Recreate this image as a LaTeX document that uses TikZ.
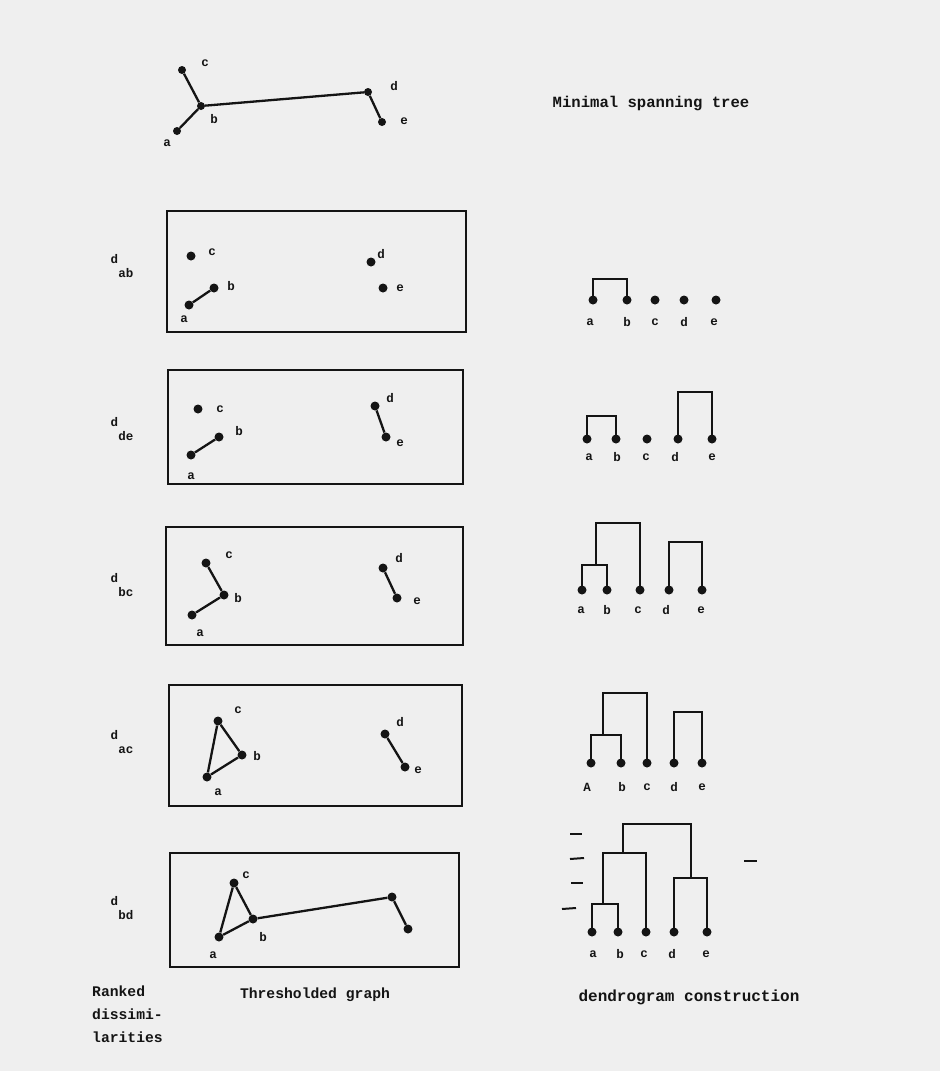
\documentclass[tikz,border=0pt]{standalone}
\usepackage{fontspec}
\setmonofont{Liberation Mono}
\definecolor{bg}{HTML}{EFEFEF}
\definecolor{ink}{HTML}{141414}
\tikzset{
  dot/.style={circle,fill=ink,inner sep=0pt,minimum size=9pt},
  sdot/.style={circle,fill=ink,inner sep=0pt,minimum size=8pt},
  lbl/.style={font=\ttfamily\bfseries\fontsize{12.5}{13}\selectfont,text=ink,inner sep=0pt},
  captxt/.style={font=\ttfamily\bfseries\fontsize{14.7}{23}\selectfont,text=ink,inner sep=0pt,align=left},
  edge/.style={draw=ink,line width=2.3pt},
  panel/.style={draw=ink,line width=2.5pt},
  tree/.style={draw=ink,line width=2.8pt},
  tickmark/.style={draw=ink,line width=2pt}
}
\newcommand{\dsub}[2]{#1\raisebox{-1.15em}{#2}}
\begin{document}
\begin{tikzpicture}[x=1pt,y=-1pt]
\fill[bg] (0,0) rectangle (940,1071);
\useasboundingbox (0,0) rectangle (940,1071);

% ---------- minimal spanning tree ----------
\node[sdot] (ta) at (177,131) {};
\node[sdot] (tb) at (201,106) {};
\node[sdot] (tc) at (182,70) {};
\node[sdot] (td) at (368,92) {};
\node[sdot] (te) at (382,122) {};
\draw[edge] (ta) -- (tb) -- (tc);
\draw[edge] (tb) -- (td) -- (te);
\node[lbl] (tlc) at (205,63) {c};
\node[lbl] (tlb) at (214,119) {b};
\node[lbl] (tla) at (167,143) {a};
\node[lbl] (tld) at (394,86) {d};
\node[lbl] (tle) at (404,121) {e};
\node[captxt,font=\ttfamily\bfseries\fontsize{15.6}{16}\selectfont] (mst) at (651,103) {Minimal spanning tree};

% ---------- panel 1 : d_ab ----------
\draw[panel] (167,211) rectangle (466,332);
\node[dot] (p1a) at (189,305) {};
\node[dot] (p1b) at (214,288) {};
\node[dot] (p1c) at (191,256) {};
\node[dot] (p1d) at (371,262) {};
\node[dot] (p1e) at (383,288) {};
\draw[edge] (p1a) -- (p1b);
\node[lbl] (l1c) at (212,252) {c};
\node[lbl] (l1b) at (231,286) {b};
\node[lbl] (l1a) at (184,319) {a};
\node[lbl] (l1d) at (381,254) {d};
\node[lbl] (l1e) at (400,288) {e};
\node[lbl] (r1) at (122,266) {\dsub{d}{ab}};

% dendrogram 1
\node[dot] (q1a) at (593,300) {};
\node[dot] (q1b) at (627,300) {};
\node[dot] (q1c) at (655,300) {};
\node[dot] (q1d) at (684,300) {};
\node[dot] (q1e) at (716,300) {};
\coordinate (q1ab) at (610,279);
\draw[tree] (q1a.center) |- (q1ab) -| (q1b.center);
\node[lbl] (m1a) at (590,322) {a};
\node[lbl] (m1b) at (627,322) {b};
\node[lbl] (m1c) at (655,322) {c};
\node[lbl] (m1d) at (684,322) {d};
\node[lbl] (m1e) at (714,322) {e};

% ---------- panel 2 : d_de ----------
\draw[panel] (168,370) rectangle (463,484);
\node[dot] (p2a) at (191,455) {};
\node[dot] (p2b) at (219,437) {};
\node[dot] (p2c) at (198,409) {};
\node[dot] (p2d) at (375,406) {};
\node[dot] (p2e) at (386,437) {};
\draw[edge] (p2a) -- (p2b);
\draw[edge] (p2d) -- (p2e);
\node[lbl] (l2c) at (220,409) {c};
\node[lbl] (l2b) at (239,431) {b};
\node[lbl] (l2a) at (191,476) {a};
\node[lbl] (l2d) at (390,398) {d};
\node[lbl] (l2e) at (400,443) {e};
\node[lbl] (r2) at (122,429) {\dsub{d}{de}};

% dendrogram 2
\node[dot] (q2a) at (587,439) {};
\node[dot] (q2b) at (616,439) {};
\node[dot] (q2c) at (647,439) {};
\node[dot] (q2d) at (678,439) {};
\node[dot] (q2e) at (712,439) {};
\coordinate (q2ab) at (601,416);
\coordinate (q2de) at (695,392);
\draw[tree] (q2a.center) |- (q2ab) -| (q2b.center);
\draw[tree] (q2d.center) |- (q2de) -| (q2e.center);
\node[lbl] (m2a) at (589,457) {a};
\node[lbl] (m2b) at (617,457) {b};
\node[lbl] (m2c) at (646,457) {c};
\node[lbl] (m2d) at (675,457) {d};
\node[lbl] (m2e) at (712,457) {e};

% ---------- panel 3 : d_bc ----------
\draw[panel] (166,527) rectangle (463,645);
\node[dot] (p3a) at (192,615) {};
\node[dot] (p3b) at (224,595) {};
\node[dot] (p3c) at (206,563) {};
\node[dot] (p3d) at (383,568) {};
\node[dot] (p3e) at (397,598) {};
\draw[edge] (p3a) -- (p3b) -- (p3c);
\draw[edge] (p3d) -- (p3e);
\node[lbl] (l3c) at (229,555) {c};
\node[lbl] (l3b) at (238,598) {b};
\node[lbl] (l3a) at (200,633) {a};
\node[lbl] (l3d) at (399,558) {d};
\node[lbl] (l3e) at (417,601) {e};
\node[lbl] (r3) at (122,585) {\dsub{d}{bc}};

% dendrogram 3
\node[dot] (q3a) at (582,590) {};
\node[dot] (q3b) at (607,590) {};
\node[dot] (q3c) at (640,590) {};
\node[dot] (q3d) at (669,590) {};
\node[dot] (q3e) at (702,590) {};
\coordinate (q3ab) at (596,565);
\coordinate (q3abc) at (618,523);
\coordinate (q3de) at (685,542);
\draw[tree] (q3a.center) |- (q3ab) -| (q3b.center);
\draw[tree] (q3ab) |- (q3abc) -| (q3c.center);
\draw[tree] (q3d.center) |- (q3de) -| (q3e.center);
\node[lbl] (m3a) at (581,610) {a};
\node[lbl] (m3b) at (607,610) {b};
\node[lbl] (m3c) at (638,610) {c};
\node[lbl] (m3d) at (666,610) {d};
\node[lbl] (m3e) at (701,610) {e};

% ---------- panel 4 : d_ac ----------
\draw[panel] (169,685) rectangle (462,806);
\node[dot] (p4a) at (207,777) {};
\node[dot] (p4b) at (242,755) {};
\node[dot] (p4c) at (218,721) {};
\node[dot] (p4d) at (385,734) {};
\node[dot] (p4e) at (405,767) {};
\draw[edge] (p4a) -- (p4b) -- (p4c) -- (p4a);
\draw[edge] (p4d) -- (p4e);
\node[lbl] (l4c) at (238,710) {c};
\node[lbl] (l4b) at (257,756) {b};
\node[lbl] (l4a) at (218,792) {a};
\node[lbl] (l4d) at (400,722) {d};
\node[lbl] (l4e) at (418,770) {e};
\node[lbl] (r4) at (122,742) {\dsub{d}{ac}};

% dendrogram 4
\node[dot] (q4a) at (591,763) {};
\node[dot] (q4b) at (621,763) {};
\node[dot] (q4c) at (647,763) {};
\node[dot] (q4d) at (674,763) {};
\node[dot] (q4e) at (702,763) {};
\coordinate (q4ab) at (603,735);
\coordinate (q4abc) at (625,693);
\coordinate (q4de) at (688,712);
\draw[tree] (q4a.center) |- (q4ab) -| (q4b.center);
\draw[tree] (q4ab) |- (q4abc) -| (q4c.center);
\draw[tree] (q4d.center) |- (q4de) -| (q4e.center);
\node[lbl] (m4a) at (587,787) {A};
\node[lbl] (m4b) at (622,787) {b};
\node[lbl] (m4c) at (647,787) {c};
\node[lbl] (m4d) at (674,787) {d};
\node[lbl] (m4e) at (702,787) {e};

% ---------- panel 5 : d_bd ----------
\draw[panel] (170,853) rectangle (459,967);
\node[dot] (p5a) at (219,937) {};
\node[dot] (p5b) at (253,919) {};
\node[dot] (p5c) at (234,883) {};
\node[dot] (p5d) at (392,897) {};
\node[dot] (p5e) at (408,929) {};
\draw[edge] (p5a) -- (p5b) -- (p5c) -- (p5a);
\draw[edge] (p5b) -- (p5d) -- (p5e);
\node[lbl] (l5c) at (246,875) {c};
\node[lbl] (l5b) at (263,937) {b};
\node[lbl] (l5a) at (213,955) {a};
\node[lbl] (r5) at (122,908) {\dsub{d}{bd}};

% dendrogram 5
\node[dot] (q5a) at (592,932) {};
\node[dot] (q5b) at (618,932) {};
\node[dot] (q5c) at (646,932) {};
\node[dot] (q5d) at (674,932) {};
\node[dot] (q5e) at (707,932) {};
\coordinate (q5ab) at (603,904);
\coordinate (q5abc) at (623,853);
\coordinate (q5de) at (691,878);
\coordinate (q5root) at (657,824);
\draw[tree] (q5a.center) |- (q5ab) -| (q5b.center);
\draw[tree] (q5ab) |- (q5abc) -| (q5c.center);
\draw[tree] (q5d.center) |- (q5de) -| (q5e.center);
\draw[tree] (q5abc) |- (q5root) -| (q5de);
\node[lbl] (m5a) at (593,954) {a};
\node[lbl] (m5b) at (620,954) {b};
\node[lbl] (m5c) at (644,954) {c};
\node[lbl] (m5d) at (672,954) {d};
\node[lbl] (m5e) at (706,954) {e};
% level ticks
\draw[tickmark] (570,834) -- (582,834);
\draw[tickmark] (570,859) -- (584,858);
\draw[tickmark] (571,883) -- (583,883);
\draw[tickmark] (562,909) -- (576,908);
\draw[tickmark] (744,861) -- (757,861);

% ---------- captions ----------
\node[captxt,anchor=north west] (rk) at (92,986) {Ranked\\dissimi-\\larities};
\node[captxt] (tg) at (315,995) {Thresholded graph};
\node[captxt,font=\ttfamily\bfseries\fontsize{16}{16}\selectfont] (dc) at (689,997) {dendrogram construction};
\end{tikzpicture}
\end{document}
